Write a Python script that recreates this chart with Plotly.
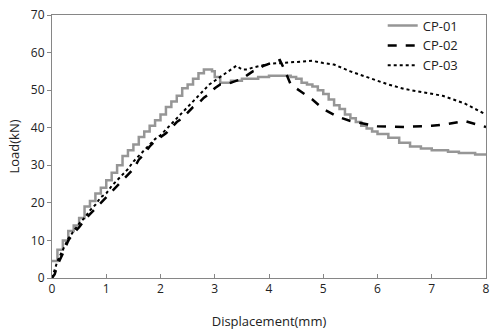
import plotly.graph_objects as go

# CP-01 (stepped curve)
cp01_x = [0, 0.1, 0.2, 0.3, 0.4, 0.5, 0.6, 0.7, 0.8, 0.9, 1.0, 1.1, 1.2, 1.3, 1.4,
          1.5, 1.6, 1.7, 1.8, 1.9, 2.0, 2.1, 2.2, 2.3, 2.4, 2.5, 2.6, 2.7, 2.8,
          2.95, 3.0, 3.1, 3.3, 3.5, 3.8, 4.0, 4.2, 4.4, 4.5, 4.6, 4.7, 4.8, 4.9,
          5.0, 5.1, 5.2, 5.3, 5.4, 5.5, 5.6, 5.7, 5.8, 5.9, 6.0, 6.2, 6.4, 6.6,
          6.8, 7.0, 7.3, 7.5, 7.8, 8.0]
cp01_y = [4.5, 7.5, 10, 12.5, 14, 16, 19, 20.5, 22.5, 24, 26, 28, 30, 32.5, 34,
          35.5, 37.5, 39, 40.5, 42, 43.5, 45.5, 47, 48.5, 50.5, 51.5, 53, 54.5, 55.5,
          55, 53.5, 52, 52.5, 53, 53.5, 53.8, 53.8, 53.5, 53, 52, 51.5, 51, 50,
          49, 47.5, 46, 45, 43.5, 42.5, 41.5, 40.5, 39.8, 39, 38.3, 37.3, 36, 35,
          34.5, 34, 33.6, 33.3, 32.9, 32.7]

# CP-02 (dashed)
cp02_x = [0, 0.05, 0.1, 0.2, 0.3, 0.4, 0.5, 0.6, 0.7, 0.8, 0.9, 1.0, 1.1, 1.2,
          1.3, 1.4, 1.5, 1.6, 1.7, 1.8, 1.9, 2.0, 2.1, 2.2, 2.3, 2.4, 2.5, 2.6,
          2.7, 2.8, 2.9, 3.0, 3.1, 3.2, 3.3, 3.4, 3.5, 3.6, 3.7, 3.8, 3.9, 4.0,
          4.1, 4.2, 4.3, 4.4, 4.6, 4.8, 5.0, 5.25, 5.5, 5.75, 6.0, 6.5, 7.0,
          7.3, 7.6, 7.8, 8.0]
cp02_y = [0, 1, 3.5, 6.5, 10, 12, 13.5, 15.5, 17, 18.5, 20, 21.5, 23, 24.5,
          26, 27.5, 29, 31.5, 33, 35, 36.5, 37.5, 38.5, 40, 41.5, 42.5, 44, 45.5,
          46.5, 48, 49, 50.5, 51.5, 51.5, 52, 52.5, 53, 54, 55, 55.5, 56.5, 57,
          57.5, 58, 55, 51.5, 49.5, 47.5, 45, 43, 41.8, 41, 40.4, 40.2, 40.5,
          41, 41.8, 41, 40.2]

# CP-03 (dotted)
cp03_x = [0, 0.05, 0.1, 0.2, 0.3, 0.4, 0.5, 0.6, 0.7, 0.8, 0.9, 1.0, 1.1, 1.2,
          1.3, 1.4, 1.5, 1.6, 1.7, 1.8, 1.9, 2.0, 2.1, 2.2, 2.3, 2.4, 2.5, 2.6,
          2.7, 2.8, 2.9, 3.0, 3.1, 3.2, 3.3, 3.4, 3.5, 3.6, 3.7, 3.8, 3.9, 4.0,
          4.3, 4.6, 4.8, 5.0, 5.2, 5.5, 5.8, 6.0, 6.2, 6.5, 6.8, 7.0, 7.2, 7.4,
          7.6, 7.8, 8.0]
cp03_y = [0, 2, 4.5, 7.5, 10.5, 12.5, 14.5, 16, 18, 19.5, 21.5, 22.5, 24.5, 26,
          27.5, 29, 31, 32.5, 34, 35.5, 37, 38, 39.5, 41, 42.5, 44, 45.5, 47,
          48.5, 50, 51.5, 52.5, 53.5, 54.5, 55.5, 56.5, 55.5, 55.5, 56, 56.3, 56.5, 57,
          57.3, 57.6, 57.8, 57.2, 56.8, 55, 53.5, 52.5, 51.5, 50.3, 49.5, 49, 48.5, 47.5,
          46.5, 45, 43.5]

x_ticks = [0, 1, 2, 3, 4, 5, 6, 7, 8]
y_ticks = [0, 10, 20, 30, 40, 50, 60, 70]

FONT = "Open Sans"
AX = "#868686"

fig = go.Figure()
fig.add_trace(go.Scatter(x=cp01_x, y=cp01_y, mode="lines", name="CP-01",
                         line=dict(color="#969696", width=2.5, shape="hv")))
fig.add_trace(go.Scatter(x=cp02_x, y=cp02_y, mode="lines", name="CP-02",
                         line=dict(color="#000000", width=2.5, dash="dash")))
fig.add_trace(go.Scatter(x=cp03_x, y=cp03_y, mode="lines", name="CP-03",
                         line=dict(color="#000000", width=2, dash="dot")))

fig.update_layout(
    width=500, height=334,
    margin=dict(l=52, r=14, t=11, b=56),
    paper_bgcolor="white", plot_bgcolor="white",
    font=dict(family=FONT, size=12, color="#222222"),
    showlegend=True,
    legend=dict(x=0.762, y=1.017, xanchor="left", yanchor="top",
                bgcolor="rgba(0,0,0,0)", font=dict(size=13, color="#222222"),
                tracegroupgap=0, itemwidth=30),
    xaxis=dict(range=[0, 8], tickvals=x_ticks, showgrid=False, zeroline=False,
               showline=True, linecolor=AX, linewidth=1, mirror=True,
               ticks="inside", ticklen=4, tickcolor=AX, automargin=False,
               title=dict(text="Displacement(mm)", standoff=20,
                          font=dict(size=13))),
    yaxis=dict(range=[0, 70], tickvals=y_ticks, showgrid=False, zeroline=False,
               showline=True, linecolor=AX, linewidth=1, mirror=True,
               ticks="outside", ticklen=4, tickcolor=AX, automargin=False,
               title=dict(text="Load(kN)", standoff=8, font=dict(size=13))),
)

fig.write_html("out.html")
